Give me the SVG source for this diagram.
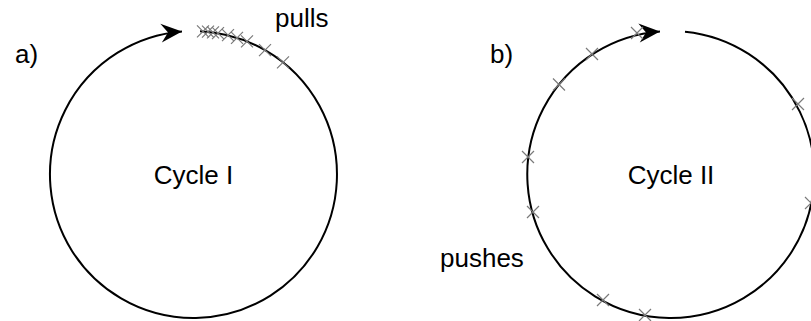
<svg xmlns="http://www.w3.org/2000/svg" xmlns:xlink="http://www.w3.org/1999/xlink" width="811" height="321" viewBox="0 0 811 321">
  <style>
    .cycle { fill: none; stroke: #000; stroke-width: 2; }
    .mark { fill: none; stroke: #7a7a7a; stroke-width: 1.2; }
    .label { font-family: "Liberation Sans", Arial, sans-serif; font-size: 26px; fill: #000; }
    .mid { text-anchor: middle; }
  </style>
  <defs>
    <marker id="arrow" markerUnits="userSpaceOnUse" viewBox="-24 -12 26 24" markerWidth="26" markerHeight="24" refX="0" refY="0" orient="auto">
      <path d="M0,0 L-21,-9.5 L-14,0 L-21,9.5 Z" fill="#000"/>
    </marker>
    <path id="x" class="mark" d="M-6,-6 L6,6 M-6,6 L6,-6"/>
  </defs>

  <rect width="811" height="321" fill="#fff"/>

  <!-- Cycle I: clockwise loop, pulls crowded just after the gap -->
  <g id="cycle-1">
    <text class="label" x="15" y="63">a)</text>
    <path class="cycle" d="M200,31.15 A143.5,143.5 0 1 1 182,31.46" marker-end="url(#arrow)"/>
    <g id="pulls">
      <use xlink:href="#x" x="203" y="31.3"/>
      <use xlink:href="#x" x="208" y="31.7"/>
      <use xlink:href="#x" x="213" y="32.3"/>
      <use xlink:href="#x" x="218" y="33.1"/>
      <use xlink:href="#x" x="228" y="35.2"/>
      <use xlink:href="#x" x="237" y="37.8"/>
      <use xlink:href="#x" x="247" y="41.3"/>
      <use xlink:href="#x" x="265" y="50.1"/>
      <use xlink:href="#x" x="283" y="62.3"/>
    </g>
    <text class="label" x="275" y="27">pulls</text>
    <text class="label mid" x="193.5" y="183.5">Cycle I</text>
  </g>

  <!-- Cycle II: clockwise loop, pushes spread around the rim -->
  <g id="cycle-2">
    <text class="label" x="490" y="63">b)</text>
    <path class="cycle" d="M685,31.7 A143.5,143.5 0 1 1 660,31.4" marker-end="url(#arrow)"/>
    <g id="pushes">
      <use xlink:href="#x" x="637" y="33"/>
      <use xlink:href="#x" x="592" y="54"/>
      <use xlink:href="#x" x="559" y="84.5"/>
      <use xlink:href="#x" x="528" y="157"/>
      <use xlink:href="#x" x="533" y="212"/>
      <use xlink:href="#x" x="603" y="300"/>
      <use xlink:href="#x" x="645" y="315"/>
      <use xlink:href="#x" x="798" y="104"/>
      <use xlink:href="#x" x="811" y="203"/>
    </g>
    <text class="label" x="440" y="267">pushes</text>
    <text class="label mid" x="671" y="183.5">Cycle II</text>
  </g>
</svg>
